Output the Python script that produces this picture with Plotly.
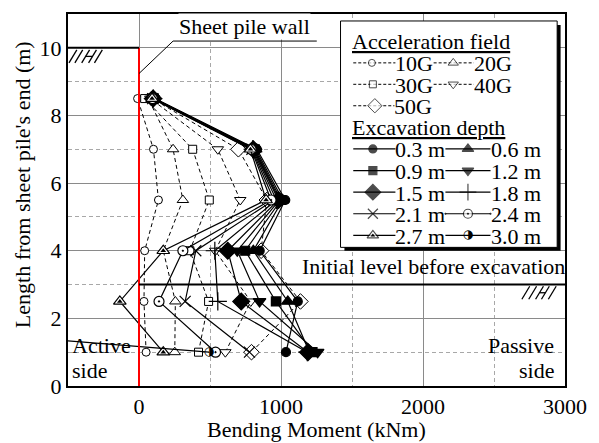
import plotly.graph_objects as go

# ---------------- data ----------------
depth = [1.0, 2.5, 4.0, 5.5, 7.0, 8.5]   # gauge position (m from sheet pile end)

acc_labels = ["10G", "20G", "30G", "40G", "50G"]
acc_10G = [50, 35, 40, 137, 102, -10]
acc_20G = [252, 256, 171, 309, 240, 65]
acc_30G = [419, 490, 358, 495, 378, 40]
acc_40G = [608, 787, 537, 713, 555, 80]
acc_50G = [792, 1137, 860, 900, 700, 92]

exc_labels = ["0.3 m", "0.6 m", "0.9 m", "1.2 m", "1.5 m", "1.8 m", "2.1 m", "2.4 m", "2.7 m", "3.0 m"]
exc_03 = [1035, 1118, 850, 1030, 830, 112]
exc_06 = [1200, 1048, 805, 1012, 822, 108]
exc_09 = [1222, 964, 748, 1000, 815, 105]
exc_12 = [1258, 849, 692, 990, 810, 102]
exc_15 = [1190, 720, 625, 982, 805, 100]
exc_18 = [1185, 555, 534, 968, 800, 100]
exc_21 = [778, 325, 400, 950, 795, 96]
exc_24 = [539, 141, 309, 930, 790, 95]
exc_27 = [171, -135, 171, 895, 785, 92]
exc_30 = [493, -4000, None, None, None, None]

x_ticks = [0, 1000, 2000, 3000]
y_ticks = [0, 2, 4, 6, 8, 10]

# ---------------- styles ----------------
FONT = "Liberation Serif"
acc_series = [acc_10G, acc_20G, acc_30G, acc_40G, acc_50G]
acc_sym = [("circle", 8), ("triangle-up", 10), ("square", 8), ("triangle-down", 10), ("diamond", 12)]
exc_series = [exc_03, exc_06, exc_09, exc_12, exc_15, exc_18, exc_21, exc_24, exc_27, exc_30]
exc_sym = [("circle", 9, "black"), ("triangle-up", 11, "black"), ("square", 9, "black"),
           ("triangle-down", 11, "black"), ("diamond", 13, "black"), ("cross-thin", 13, "black"),
           ("x-thin", 11, "black"), ("circle-dot", 10, "white"), ("triangle-up", 11, "white"), (None, 0, None)]
DASH = "4px,3px"

fig = go.Figure()

# acceleration field series (dashed, open)
for vals, (sym, sz), name in zip(acc_series, acc_sym, acc_labels):
    fig.add_trace(go.Scatter(x=vals, y=depth, mode="lines+markers",
                             marker=dict(symbol=sym, size=sz, color="white", line=dict(color="black", width=1)),
                             line=dict(color="black", width=1, dash=DASH), name=name))

# excavation depth series (solid)
for vals, (sym, sz, col), name in zip(exc_series, exc_sym, exc_labels):
    if sym is None:
        fig.add_trace(go.Scatter(x=vals, y=depth, mode="lines+text", text=["◑"] * len(vals),
                                 textposition="middle center",
                                 textfont=dict(family="DejaVu Sans", size=12, color="black"),
                                 line=dict(color="black", width=1.2), name=name))
        continue
    mk = dict(symbol=sym, size=sz, color=col, line=dict(color="black", width=1.2))
    fig.add_trace(go.Scatter(x=vals, y=depth, mode="lines+markers", marker=mk,
                             line=dict(color="black", width=1.2), name=name))
    if name == "2.7 m":
        fig.add_trace(go.Scatter(x=vals, y=depth, mode="markers",
                                 marker=dict(symbol="triangle-up", size=5, color="black"), name=name))

# ---------------- legend (drawn in pixel space overlay) ----------------
L = dict(xaxis="x2", yaxis="y2", showlegend=False, hoverinfo="skip")
# shadow + box
fig.add_trace(go.Scatter(x=[350, 570.5, 570.5, 350, 350], y=[24, 24, 250.5, 250.5, 24], fill="toself",
                         fillcolor="black", line=dict(width=0), mode="lines", **L))
fig.add_trace(go.Scatter(x=[346, 567, 567, 346, 346], y=[20, 20, 247, 247, 20], fill="toself",
                         fillcolor="white", line=dict(color="black", width=1), mode="lines", **L))

annotations = []
def leg_text(x, y, t):
    annotations.append(dict(x=x, y=y, xref="x2", yref="y2", text=t, showarrow=False,
                            xanchor="left", yanchor="middle", borderpad=0,
                            font=dict(family=FONT, size=22, color="black")))

leg_text(357, 41, "<u>Acceleration field</u>")
leg_text(357, 127, "<u>Excavation depth</u>")

acc_pos = [(359, 402, 378, 62), (441, 482, 461, 62), (359, 402, 379, 83.5), (441, 482, 461, 83.5), (359, 401, 381, 105)]
for (x0, x1, xm, yy), (sym, sz), name in zip(acc_pos, acc_sym, acc_labels):
    fig.add_trace(go.Scatter(x=[x0, xm, x1], y=[yy, yy, yy], mode="lines+markers",
                             line=dict(color="black", width=1, dash="3px,2px"),
                             marker=dict(symbol=sym, size=[0, sz - 1, 0], color="white",
                                         line=dict(color="black", width=1)), **L))
    leg_text(x1 - 1, yy + 1, name)

rows = [148.3, 170, 191.7, 213.3, 235]
exc_pos = []
for r in rows:
    exc_pos.append((359, 402, 379, r))
    exc_pos.append((453, 499, 476, r))
for (x0, x1, xm, yy), (sym, sz, col), name in zip(exc_pos, exc_sym, exc_labels):
    if sym is None:
        fig.add_trace(go.Scatter(x=[x0, xm, x1], y=[yy, yy, yy], mode="lines+text", text=["", "◑", ""],
                                 textposition="middle center",
                                 textfont=dict(family="DejaVu Sans", size=12, color="black"),
                                 line=dict(color="black", width=1.2), **L))
    else:
        fig.add_trace(go.Scatter(x=[x0, xm, x1], y=[yy, yy, yy], mode="lines+markers",
                                 line=dict(color="black", width=1.2),
                                 marker=dict(symbol=sym, size=[0, sz - 1, 0], color=col,
                                             line=dict(color="black", width=1.2)), **L))
        if name == "2.7 m":
            fig.add_trace(go.Scatter(x=[xm], y=[yy], mode="markers",
                                     marker=dict(symbol="triangle-up", size=4, color="black"), **L))
    leg_text(x1 - 1, yy + 1, name)

# ---------------- decorations ----------------
shapes = [
    # sheet pile wall (red)
    dict(type="line", x0=0, x1=0, y0=0, y1=10, xref="x", yref="y", line=dict(color="red", width=2), layer="above"),
    # ground surface behind the wall
    dict(type="line", x0=-500, x1=0, y0=10, y1=10, xref="x", yref="y", line=dict(color="black", width=2)),
    # initial level before excavation
    dict(type="line", x0=0, x1=3000, y0=3, y1=3, xref="x", yref="y", line=dict(color="black", width=2)),
    # sheet pile label underline + leader
    dict(type="line", x0=240, x1=1252, y0=10.2, y1=10.2, xref="x", yref="y", line=dict(color="black", width=1)),
    dict(type="line", x0=240, x1=0, y0=10.2, y1=9.24, xref="x", yref="y", line=dict(color="black", width=1)),
]
# hatch marks (pixel space)
def hatch(bases, ytop, ybot, hbar):
    for b in bases:
        shapes.append(dict(type="line", x0=b, y0=ybot, x1=b + 8, y1=ytop, xref="x2", yref="y2",
                           line=dict(color="black", width=1.3)))
    a, c = hbar
    ym = (ytop + ybot) / 2
    shapes.append(dict(type="line", x0=a + 4, y0=ym, x1=c + 4, y1=ym, xref="x2", yref="y2",
                       line=dict(color="black", width=1.3)))

hatch([69, 75, 82, 89, 95], 49, 62, (82, 89))
hatch([531, 538, 545, 551, 558], 286, 299, (545, 551))

# text annotations
def data_text(x, y, t, xa="center", ya="middle", bg=None):
    d = dict(x=x, y=y, xref="x", yref="y", text=t, showarrow=False, xanchor=xa, yanchor=ya,
             borderpad=0, font=dict(family=FONT, size=22, color="black"))
    if bg:
        d["bgcolor"] = bg
    annotations.append(d)

data_text(740, 10.24, "Sheet pile wall", ya="bottom", bg="white")
data_text(2075, 3.52, "Initial level before excavation")
data_text(-480, 1.2, "Active", xa="left")
data_text(-480, 0.47, "side", xa="left")
data_text(2930, 1.2, "Passive", xa="right")
data_text(2930, 0.47, "side", xa="right")

# axis titles (paper coords)
annotations.append(dict(x=-0.091, y=0.542, xref="paper", yref="paper", text="Length from sheet pile's end (m)",
                        showarrow=False, textangle=-90, xanchor="center", yanchor="middle",
                        font=dict(family=FONT, size=22, color="black")))
annotations.append(dict(x=0.499, y=-0.118, xref="paper", yref="paper", text="Bending Moment (kNm)",
                        showarrow=False, xanchor="center", yanchor="middle",
                        font=dict(family=FONT, size=22, color="black")))

fig.update_layout(
    width=599, height=443,
    margin=dict(l=68, r=24, t=13, b=57),
    paper_bgcolor="white", plot_bgcolor="white",
    showlegend=False,
    font=dict(family=FONT, size=22, color="black"),
    xaxis=dict(range=[-500, 3000], tickvals=x_ticks, showgrid=True, gridcolor="#8a8a8a", gridwidth=1,
               minor=dict(dtick=500, tick0=0, showgrid=True, gridcolor="#a8a8a8", griddash=DASH, gridwidth=1),
               showline=True, linecolor="black", linewidth=2, mirror=True, ticks="", zeroline=False,
               ticklabelstandoff=0, tickfont=dict(family=FONT, size=22, color="black")),
    yaxis=dict(range=[0, 11], tickvals=y_ticks, showgrid=True, gridcolor="#8a8a8a", gridwidth=1,
               minor=dict(dtick=1, tick0=0, showgrid=True, gridcolor="#a8a8a8", griddash=DASH, gridwidth=1),
               showline=True, linecolor="black", linewidth=2, mirror=True, ticks="", zeroline=False,
               ticklabelstandoff=0, tickfont=dict(family=FONT, size=22, color="black")),
    xaxis2=dict(overlaying="x", range=[68, 575], visible=False, fixedrange=True),
    yaxis2=dict(overlaying="y", range=[386, 13], visible=False, fixedrange=True),
    shapes=shapes,
    annotations=annotations,
)

fig.write_html("out.html")
